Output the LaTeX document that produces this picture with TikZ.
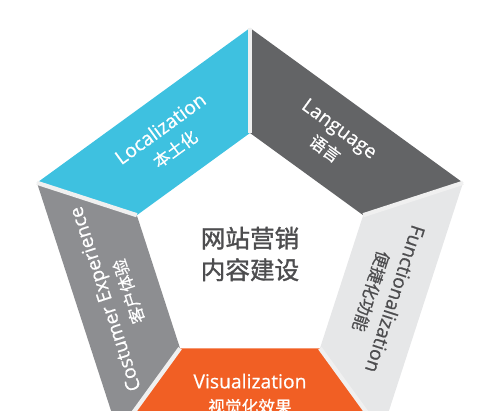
\documentclass[tikz,border=0pt]{standalone}
\usepackage{fontspec}
\setmainfont{Open Sans}
\newfontfamily\lab{Open Sans}[FakeBold=0.6]
\newfontfamily\cjk{Noto Sans CJK SC}[FakeBold=0.6]
\newfontfamily\cjkhead{Noto Sans CJK SC}[FakeBold=1.4]
\definecolor{locblue}{HTML}{3EC1E0}
\definecolor{langgray}{HTML}{636466}
\definecolor{funcgray}{HTML}{E6E7E8}
\definecolor{custgray}{HTML}{8D8E91}
\definecolor{visorange}{HTML}{F15F24}
\definecolor{txtgray}{HTML}{4D4D4F}
\newcommand{\sub}[1]{{\cjk\fontsize{9.5}{14}\selectfont #1}}
\tikzset{
  seglabel/.style={align=center, inner sep=0pt, font=\lab\fontsize{11}{14}\selectfont},
  gapline/.style={line width=2.4pt, black!6}
}
\begin{document}
\begin{tikzpicture}[x=0.02cm,y=0.02cm]
  \useasboundingbox (0,0) rectangle (500,411);
  \clip (0,0) rectangle (500,411);
  \begin{scope}[shift={(250,159)}]
    % corners of the ring
    \foreach \k/\a in {1/90,2/162,3/234,4/306,5/378}{
      \coordinate (o\k) at (\a:224);
      \coordinate (i\k) at (\a:119);
    }
    \foreach \k/\n/\col in {1/2/locblue,2/3/custgray,3/4/visorange,4/5/funcgray,5/1/langgray}
      \fill[\col] (o\k) -- (o\n) -- (i\n) -- (i\k) -- cycle;
    \foreach \k in {1,...,5}
      \draw[gapline] (i\k) -- (o\k);
    % labels
    \node[seglabel, text=white, rotate=36] (loc) at (126:140) {Localization\\\sub{本土化}};
    \node[seglabel, text=white, rotate=108] (cust) at (198:140) {Costumer Experience\\\sub{客户体验}};
    \node[seglabel, text=white] (vis) at (270:142) {Visualization\\\sub{视觉化效果}};
    \node[seglabel, text=txtgray, rotate=-108] (func) at (342:140) {Functionalization\\\sub{便捷化功能}};
    \node[seglabel, text=white, rotate=-36] (lang) at (54:140) {Language\\\sub{语言}};
    \node[align=center, text=txtgray, font=\cjkhead\fontsize{14}{18}\selectfont] (title) at (0,-2) {网站营销\\内容建设};
  \end{scope}
\end{tikzpicture}
\end{document}
